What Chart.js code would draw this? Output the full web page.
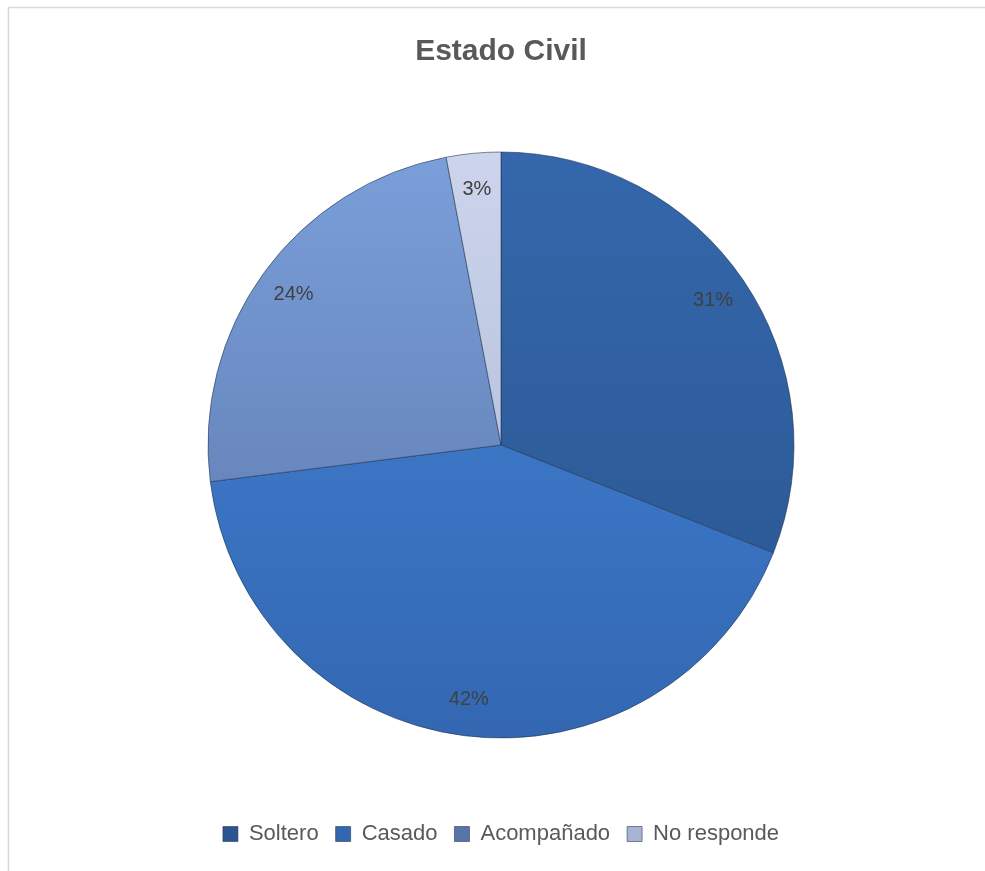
<!DOCTYPE html>
<html>
<head>
<meta charset="utf-8">
<script src="https://cdn.jsdelivr.net/npm/chart.js@4/dist/chart.umd.min.js"></script>
<style>
  html, body { margin: 0; padding: 0; background: #ffffff; }
  #wrap { width: 985px; height: 871px; position: relative; }
</style>
</head>
<body>
<div id="wrap"><canvas id="pie"></canvas></div>
<script>
// Estado civil de los encuestados (porcentaje)
const categorias = ['Soltero', 'Casado', 'Acompañado', 'No responde'];
const porcentajes = [31, 42, 24, 3];
const etiquetas = ['31%', '42%', '24%', '3%'];

// Tonos de cada sector: claro arriba, oscuro abajo
const tonoClaro = ['#3467AB', '#4385D8', '#7A9FDA', '#CCD5EC'];
const tonoOscuro = ['#2A5590', '#3367B2', '#5A74A8', '#A9B4D2'];

function relleno(ctx) {
  const chart = ctx.chart;
  const i = ctx.dataIndex;
  const area = chart.chartArea;
  if (!area || i === undefined) return tonoClaro[i || 0];
  const meta = chart.getDatasetMeta(0);
  const arc = meta.data[i];
  const cy = arc && arc.y ? arc.y : (area.top + area.bottom) / 2;
  const r = arc && arc.outerRadius ? arc.outerRadius : 293;
  const g = chart.ctx.createLinearGradient(0, cy - r, 0, cy + r);
  g.addColorStop(0, tonoClaro[i]);
  g.addColorStop(1, tonoOscuro[i]);
  return g;
}

// Marco gris del área del gráfico
const marco = {
  id: 'marco',
  beforeDraw(chart) {
    const c = chart.ctx;
    c.save();
    c.strokeStyle = '#D9D9D9';
    c.lineWidth = 1.5;
    c.beginPath();
    c.moveTo(8.5, chart.height);
    c.lineTo(8.5, 7.5);
    c.lineTo(chart.width, 7.5);
    c.stroke();
    c.restore();
  }
};

// Porcentaje dentro de cada sector, cerca del borde
const rotulos = {
  id: 'rotulos',
  afterDatasetsDraw(chart) {
    const c = chart.ctx;
    const meta = chart.getDatasetMeta(0);
    c.save();
    c.font = '20px "Liberation Sans", Arial, sans-serif';
    c.fillStyle = '#404040';
    c.textAlign = 'center';
    c.textBaseline = 'middle';
    meta.data.forEach((arc, i) => {
      const p = arc.getProps(['x', 'y', 'startAngle', 'endAngle', 'outerRadius'], true);
      const mid = (p.startAngle + p.endAngle) / 2;
      const rr = p.outerRadius * 0.875;
      c.fillText(etiquetas[i], p.x + Math.cos(mid) * rr, p.y + Math.sin(mid) * rr);
    });
    c.restore();
  }
};

new Chart(document.getElementById('pie'), {
  type: 'pie',
  data: {
    labels: categorias,
    datasets: [{
      data: porcentajes,
      backgroundColor: relleno,
      borderColor: 'rgba(30,45,75,0.55)',
      borderWidth: 1
    }]
  },
  options: {
    responsive: true,
    maintainAspectRatio: false,
    animation: false,
    radius: 293,
    layout: { padding: { left: 17, right: 0, top: 0, bottom: 16 } },
    plugins: {
      title: {
        display: true,
        text: 'Estado Civil',
        color: '#595959',
        font: { family: '"Liberation Sans", Arial, sans-serif', size: 30, weight: 'bold' },
        padding: { top: 34, bottom: 14 }
      },
      legend: {
        position: 'bottom',
        labels: {
          color: '#595959',
          font: { family: '"Liberation Sans", Arial, sans-serif', size: 22 },
          boxWidth: 15,
          boxHeight: 15,
          padding: 17
        }
      },
      tooltip: { enabled: false }
    }
  },
  plugins: [marco, rotulos]
});
</script>
</body>
</html>
